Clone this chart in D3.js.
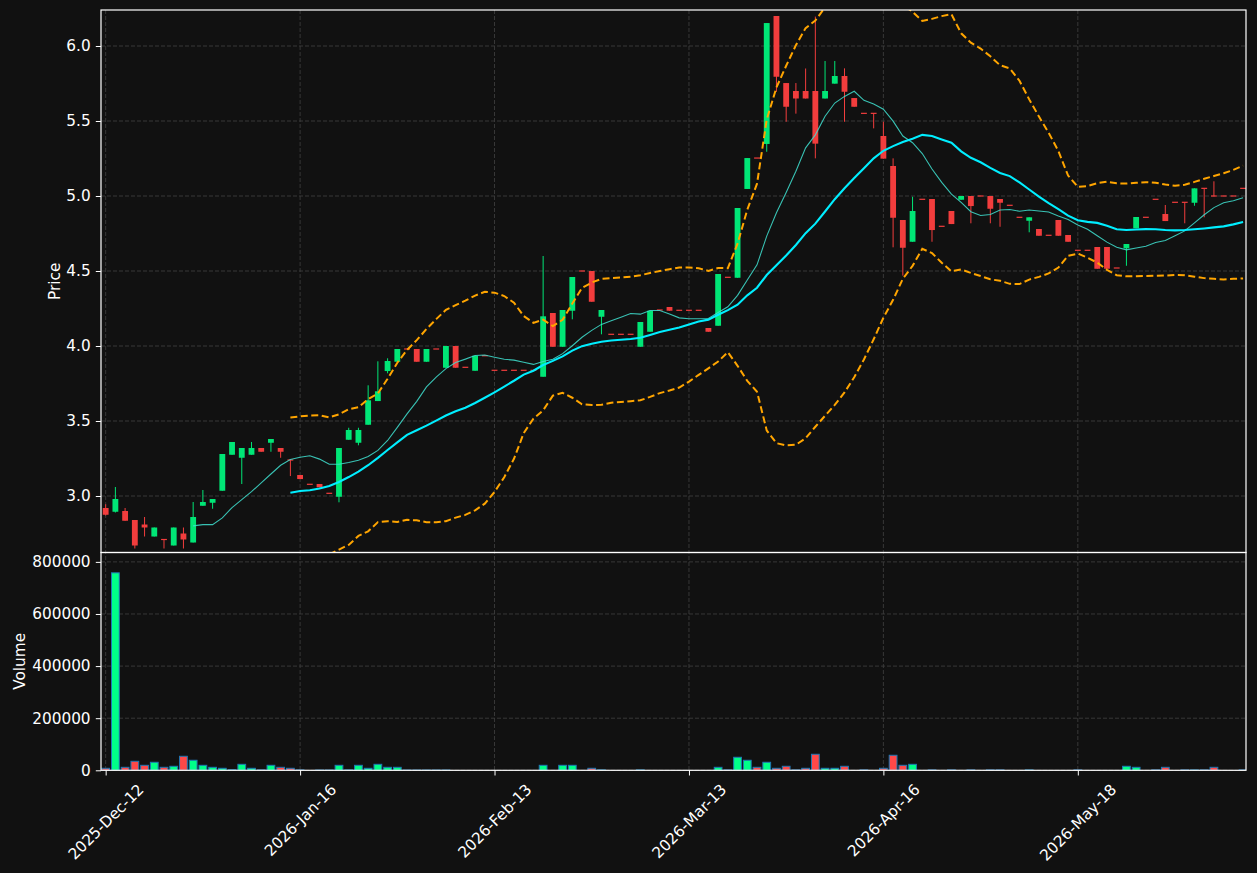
<!DOCTYPE html>
<html lang="en">
<head>
  <meta charset="UTF-8">
  <title>Price / Volume</title>
  <script src="https://d3js.org/d3.v7.min.js"></script>
  <style>
    * { margin: 0; padding: 0; }
    html, body { background-color: #111111; }
    svg text { font-family: "DejaVu Sans", sans-serif; fill: #ffffff; }
  </style>
</head>
<body>
  <svg id="chart" width="1257" height="873"></svg>

  <script>
    // OHLC + volume, one entry per bar
    var opens = [2.92, 2.895, 2.90, 2.84, 2.81, 2.73, 2.71, 2.67, 2.75, 2.69,
      2.935, 2.955, 3.035, 3.275, 3.255, 3.275, 3.32, 3.355, 3.32, 3.24,
      3.14, 3.078, 3.08, 3.018, 2.995, 3.375, 3.355, 3.475, 3.633, 3.833,
      3.895, 3.98, 3.98, 3.895, 3.98, 3.855, 4.0, 3.858, 3.835, 3.935,
      3.838, 3.838, 3.838, 3.838, 3.838, 3.795, 4.22, 3.995, 4.235, 4.5,
      4.5, 4.195, 4.078, 4.078, 4.078, 3.995, 4.095, 4.24, 4.26, 4.238,
      4.238, 4.238, 4.12, 4.135, 4.458, 4.455, 5.047, 5.253, 5.347, 6.2,
      5.753, 5.7, 5.7, 5.7, 5.65, 5.749, 5.8, 5.653, 5.551, 5.551,
      5.4, 5.2, 4.84, 4.695, 4.978, 4.98, 4.798, 4.9, 4.975, 5.0,
      5.0, 5.0, 4.98, 4.938, 4.858, 4.835, 4.78, 4.738, 4.84, 4.74,
      4.638, 4.638, 4.66, 4.66, 4.52, 4.651, 4.785, 4.858, 4.978, 4.88,
      4.958, 4.958, 4.955, 5.051, 5.0, 5.0, 5.0, 5.051];
    var highs = [2.945, 3.06, 2.92, 2.84, 2.86, 2.79, 2.71, 2.79, 2.79, 2.96,
      3.04, 2.98, 3.28, 3.36, 3.32, 3.36, 3.32, 3.38, 3.32, 3.24,
      3.14, 3.078, 3.08, 3.018, 3.32, 3.455, 3.455, 3.738, 3.898, 3.918,
      3.98, 3.98, 3.98, 3.98, 3.98, 4.0, 4.0, 3.858, 3.935, 3.935,
      3.838, 3.838, 3.838, 3.838, 3.838, 4.6, 4.22, 4.24, 4.46, 4.5,
      4.5, 4.24, 4.078, 4.078, 4.078, 4.16, 4.235, 4.24, 4.26, 4.238,
      4.238, 4.238, 4.12, 4.48, 4.458, 4.92, 5.253, 5.253, 6.153, 6.2,
      5.753, 5.753, 5.85, 6.196, 5.9, 5.9, 5.851, 5.653, 5.551, 5.551,
      5.495, 5.251, 4.84, 4.995, 4.978, 4.98, 4.798, 4.9, 5.0, 5.0,
      5.0, 5.0, 4.98, 4.938, 4.858, 4.858, 4.78, 4.738, 4.84, 4.74,
      4.638, 4.638, 4.66, 4.66, 4.52, 4.68, 4.86, 4.858, 4.978, 4.94,
      4.958, 4.958, 5.051, 5.051, 5.098, 5.0, 5.0, 5.051];
    var lows = [2.87, 2.89, 2.835, 2.65, 2.73, 2.73, 2.65, 2.67, 2.65, 2.69,
      2.935, 2.915, 3.035, 3.275, 3.08, 3.275, 3.295, 3.295, 3.255, 3.133,
      3.113, 3.078, 3.058, 3.018, 2.958, 3.375, 3.338, 3.475, 3.633, 3.818,
      3.895, 3.98, 3.895, 3.895, 3.98, 3.855, 3.855, 3.858, 3.835, 3.935,
      3.838, 3.838, 3.838, 3.838, 3.838, 3.795, 3.995, 3.995, 4.178, 4.5,
      4.295, 4.078, 4.078, 4.078, 4.078, 3.995, 4.095, 4.24, 4.235, 4.238,
      4.238, 4.238, 4.095, 4.135, 4.458, 4.455, 5.047, 5.253, 5.295, 5.695,
      5.495, 5.549, 5.65, 5.251, 5.65, 5.749, 5.495, 5.595, 5.551, 5.451,
      5.249, 4.658, 4.469, 4.695, 4.978, 4.695, 4.798, 4.813, 4.975, 4.818,
      5.0, 4.818, 4.795, 4.938, 4.858, 4.758, 4.735, 4.738, 4.735, 4.695,
      4.638, 4.638, 4.515, 4.515, 4.52, 4.535, 4.785, 4.858, 4.978, 4.833,
      4.958, 4.818, 4.935, 4.858, 4.998, 5.0, 5.0, 5.051];
    var closes = [2.875, 2.98, 2.835, 2.67, 2.79, 2.79, 2.71, 2.79, 2.71, 2.86,
      2.96, 2.98, 3.28, 3.36, 3.32, 3.32, 3.295, 3.38, 3.295, 3.24,
      3.113, 3.078, 3.058, 3.018, 3.32, 3.44, 3.44, 3.638, 3.698, 3.9,
      3.98, 3.98, 3.895, 3.98, 3.98, 4.0, 3.855, 3.858, 3.935, 3.935,
      3.838, 3.838, 3.838, 3.838, 3.838, 4.198, 3.995, 4.24, 4.46, 4.5,
      4.295, 4.24, 4.078, 4.078, 4.078, 4.16, 4.235, 4.24, 4.235, 4.238,
      4.238, 4.238, 4.095, 4.48, 4.458, 4.92, 5.253, 5.253, 6.153, 5.795,
      5.595, 5.65, 5.65, 5.349, 5.7, 5.8, 5.695, 5.595, 5.551, 5.551,
      5.249, 4.855, 4.655, 4.9, 4.978, 4.773, 4.798, 4.813, 5.0, 4.933,
      5.0, 4.915, 4.955, 4.938, 4.858, 4.858, 4.735, 4.738, 4.735, 4.695,
      4.638, 4.638, 4.515, 4.515, 4.52, 4.68, 4.86, 4.858, 4.978, 4.833,
      4.958, 4.958, 5.051, 5.051, 4.998, 5.0, 5.0, 5.051];
    var volumes = [7700, 758000, 11500, 34600, 19200, 30800, 11500, 15400, 53800, 38500,
      19200, 11500, 7700, 2000, 23000, 7700, 1500, 19200, 11500, 7700,
      1500, 0, 1000, 1000, 19200, 1500, 19200, 7700, 23000, 11500,
      11500, 1000, 1000, 1000, 1000, 1000, 0, 0, 0, 0,
      0, 0, 0, 0, 0, 19200, 0, 19200, 19200, 0,
      7700, 1500, 0, 0, 0, 1500, 0, 0, 0, 0,
      0, 0, 0, 11500, 1500, 50000, 38500, 11500, 30800, 7700,
      15400, 1500, 7700, 61500, 7700, 7700, 15400, 0, 1500, 0,
      7700, 57700, 19200, 23000, 0, 1500, 0, 1500, 0, 1500,
      0, 1500, 1500, 0, 0, 1500, 0, 0, 0, 0,
      1500, 0, 0, 0, 0, 15400, 11500, 0, 1500, 11500,
      0, 1500, 1500, 1500, 11500, 0, 0, 1500];

    var tickIdx = [0, 20, 40, 60, 80, 100];
    var tickLabels = ['2025-Dec-12', '2026-Jan-16', '2026-Feb-13', '2026-Mar-13', '2026-Apr-16', '2026-May-18'];
    var priceTicks = [3.0, 3.5, 4.0, 4.5, 5.0, 5.5, 6.0];
    var volumeTicks = [0, 200000, 400000, 600000, 800000];

    var upColor = '#00e676', downColor = '#f23d3d';
    var volUp = '#00ff88', volDown = '#ff4848', volEdge = '#1f77b4';

    var left = 101, right = 1246, pTop = 10, pBottom = 552.5, vBottom = 770.3;
    var fontPx = 15.3, tickLen = 5.2;

    var svg = d3.select('#chart');
    svg.append('rect').attr('width', 1257).attr('height', 873).attr('fill', '#111111');

    var x = d3.scaleLinear().domain([-0.48, 117.3]).range([left, right]);
    var yP = d3.scaleLinear().domain([2.6267, 6.24]).range([pBottom - 0.5, pTop]);
    var yV = d3.scaleLinear().domain([0, 836000]).range([vBottom, pBottom]);
    var step = x(1) - x(0);

    var defs = svg.append('defs');
    defs.append('clipPath').attr('id', 'clipP').append('rect')
      .attr('x', left).attr('y', pTop).attr('width', right - left).attr('height', pBottom - pTop);
    defs.append('clipPath').attr('id', 'clipV').append('rect')
      .attr('x', left).attr('y', pBottom).attr('width', right - left).attr('height', vBottom - pBottom);

    // grid
    var grid = svg.append('g').attr('stroke', '#3c3c3c').attr('stroke-width', 0.9).attr('stroke-dasharray', '4,2');
    tickIdx.forEach(function(i) {
      grid.append('line').attr('x1', x(i)).attr('x2', x(i)).attr('y1', pTop).attr('y2', vBottom);
    });
    priceTicks.forEach(function(v) {
      grid.append('line').attr('x1', left).attr('x2', right).attr('y1', yP(v)).attr('y2', yP(v));
    });
    volumeTicks.forEach(function(v) {
      grid.append('line').attr('x1', left).attr('x2', right).attr('y1', yV(v)).attr('y2', yV(v));
    });

    // candles
    var pg = svg.append('g').attr('clip-path', 'url(#clipP)');
    var bodyW = step * 0.6;
    closes.forEach(function(c, i) {
      var o = opens[i];
      var col = o < c ? upColor : downColor;
      pg.append('line')
        .attr('x1', x(i)).attr('x2', x(i))
        .attr('y1', yP(highs[i])).attr('y2', yP(lows[i]))
        .attr('stroke', col).attr('stroke-width', 1);
      var top = yP(Math.max(o, c)), bot = yP(Math.min(o, c));
      var h = Math.max(bot - top, 1.2);
      pg.append('rect')
        .attr('x', x(i) - bodyW / 2).attr('y', top - (bot - top < 1.2 ? 0.6 : 0))
        .attr('width', bodyW).attr('height', h)
        .attr('fill', col);
    });

    // moving averages and bands
    function rolling(n, fn) {
      return closes.map(function(c, i) {
        if (i < n - 1) return null;
        return fn(closes.slice(i - n + 1, i + 1));
      });
    }
    var ma10 = rolling(10, d3.mean);
    var ma20 = rolling(20, d3.mean);
    var sd20 = rolling(20, function(w) {
      var m = d3.mean(w);
      return Math.sqrt(d3.mean(w, function(v) { return (v - m) * (v - m); }));
    });
    var upper = ma20.map(function(m, i) { return m === null ? null : m + 2 * sd20[i]; });
    var lower = ma20.map(function(m, i) { return m === null ? null : m - 2 * sd20[i]; });

    var line = d3.line()
      .defined(function(d) { return d !== null; })
      .x(function(d, i) { return x(i); })
      .y(function(d) { return yP(d); });

    pg.append('path').attr('d', line(upper)).attr('fill', 'none')
      .attr('stroke', '#ffa500').attr('stroke-width', 2).attr('stroke-dasharray', '7,3.5');
    pg.append('path').attr('d', line(lower)).attr('fill', 'none')
      .attr('stroke', '#ffa500').attr('stroke-width', 2).attr('stroke-dasharray', '7,3.5');
    pg.append('path').attr('d', line(ma10)).attr('fill', 'none')
      .attr('stroke', '#40e0d0').attr('stroke-opacity', 0.85).attr('stroke-width', 1.1);
    pg.append('path').attr('d', line(ma20)).attr('fill', 'none')
      .attr('stroke', '#00eeff').attr('stroke-width', 2.1);

    // volume
    var vg = svg.append('g').attr('clip-path', 'url(#clipV)');
    var barW = step * 0.8;
    volumes.forEach(function(v, i) {
      if (!v) return;
      vg.append('rect')
        .attr('x', x(i) - barW / 2).attr('y', yV(v))
        .attr('width', barW).attr('height', yV(0) - yV(v))
        .attr('fill', opens[i] < closes[i] ? volUp : volDown)
        .attr('stroke', volEdge).attr('stroke-width', 1);
    });

    // axes
    function styleAxis(g) {
      g.select('.domain').remove();
      g.selectAll('line').attr('stroke', '#ffffff');
      g.selectAll('text').attr('font-size', fontPx).attr('fill', '#ffffff');
    }
    svg.append('g').attr('transform', 'translate(' + left + ',0)')
      .call(d3.axisLeft(yP).tickValues(priceTicks).tickFormat(d3.format('.1f')).tickSize(tickLen).tickPadding(tickLen))
      .call(styleAxis);
    svg.append('g').attr('transform', 'translate(' + left + ',0)')
      .call(d3.axisLeft(yV).tickValues(volumeTicks).tickFormat(d3.format('d')).tickSize(tickLen).tickPadding(tickLen))
      .call(styleAxis);

    var xg = svg.append('g').attr('transform', 'translate(0,' + vBottom + ')')
      .call(d3.axisBottom(x).tickValues(tickIdx).tickFormat(function(d, k) { return tickLabels[k]; }).tickSize(tickLen).tickPadding(tickLen))
      .call(styleAxis);
    // rotate 45 degrees, bbox centred under the tick (matplotlib style)
    xg.selectAll('.tick text').each(function() {
      var t = d3.select(this);
      var w = this.getComputedTextLength();
      var h = fontPx * 1.16;
      var cy = 2 * tickLen + (w + h) * Math.SQRT1_2 / 2;
      t.attr('y', null).attr('dy', null)
        .attr('text-anchor', 'middle').attr('dominant-baseline', 'central')
        .attr('transform', 'translate(0,' + cy + ') rotate(-45)');
    });

    // frames
    var frame = svg.append('g').attr('fill', 'none').attr('stroke', '#ffffff').attr('stroke-width', 1.2);
    frame.append('rect').attr('x', left).attr('y', pTop).attr('width', right - left).attr('height', pBottom - pTop);
    frame.append('rect').attr('x', left).attr('y', pBottom).attr('width', right - left).attr('height', vBottom - pBottom);

    // axis titles
    svg.append('text').text('Price').attr('font-size', fontPx)
      .attr('text-anchor', 'middle')
      .attr('transform', 'translate(59.5,' + ((pTop + pBottom) / 2) + ') rotate(-90)');
    svg.append('text').text('Volume').attr('font-size', fontPx)
      .attr('text-anchor', 'middle')
      .attr('transform', 'translate(24.5,' + ((pBottom + vBottom) / 2) + ') rotate(-90)');
  </script>
</body>
</html>
